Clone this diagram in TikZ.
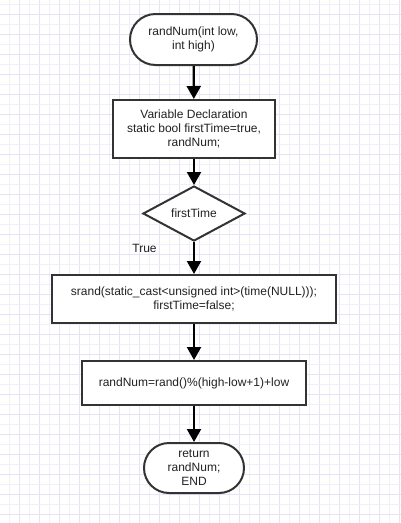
\documentclass[tikz,border=0pt]{standalone}
\usepackage{fontspec}
\setmainfont{Liberation Sans}
\usetikzlibrary{arrows.meta,shapes.geometric,shapes.misc}
\definecolor{gridA}{HTML}{E4E4F4}
\definecolor{gridB}{HTML}{F0F0FA}
\definecolor{ink}{HTML}{222222}
\definecolor{edge}{HTML}{333333}
\begin{document}
\begin{tikzpicture}[x=1pt,y=-1pt,
  base/.style={draw=edge,line width=2pt,fill=white,text=ink,align=center,inner sep=0pt,
    font=\fontsize{12}{14}\selectfont},
  term/.style={base,rounded rectangle,rounded rectangle arc length=180},
  proc/.style={base,rectangle},
  deci/.style={base,diamond,aspect=1.85},
  flow/.style={draw=black,line width=2.2pt,-{Triangle[length=13pt,width=14pt]}}
]
\useasboundingbox (0,0) rectangle (401,523);
\fill[white] (0,0) rectangle (401,523);
\foreach \i in {0,...,39} {
  \pgfmathsetmacro\xx{9+10*\i}
  \ifodd\i \def\gc{gridA}\else\def\gc{gridB}\fi
  \draw[\gc,line width=0.7pt] (\xx,0) -- (\xx,523);
}
\foreach \i in {0,...,52} {
  \pgfmathsetmacro\yy{4+10*\i}
  \ifodd\i \def\gc{gridA}\else\def\gc{gridB}\fi
  \draw[\gc,line width=0.7pt] (0,\yy) -- (401,\yy);
}
\node[term,minimum width=127pt,minimum height=51pt] (start) at (193.5,39.5) {randNum(int low,\\int high)};
\node[proc,minimum width=162pt,minimum height=58pt] (decl) at (194,129) {Variable Declaration\\static bool firstTime=true,\\randNum;};
\node[deci,minimum width=102pt,minimum height=55pt] (dec) at (194,213.5) {firstTime};
\node[text=ink,font=\fontsize{12}{14}\selectfont,inner sep=0pt] (truelbl) at (144.5,248) {True};
\node[proc,minimum width=284pt,minimum height=48pt] (seed) at (194,299) {srand(static\_cast<unsigned int>(time(NULL)));\\firstTime=false;};
\node[proc,minimum width=224pt,minimum height=44pt] (calc) at (194,383) {randNum=rand()\%(high-low+1)+low};
\node[term,minimum width=100pt,minimum height=50pt] (stop) at (194,468) {return\\randNum;\\END};
\draw[flow] (start) -- (decl);
\draw[flow] (decl) -- (dec);
\draw[flow] (dec) -- (seed);
\draw[flow] (seed) -- (calc);
\draw[flow] (calc) -- (stop);
\end{tikzpicture}
\end{document}
